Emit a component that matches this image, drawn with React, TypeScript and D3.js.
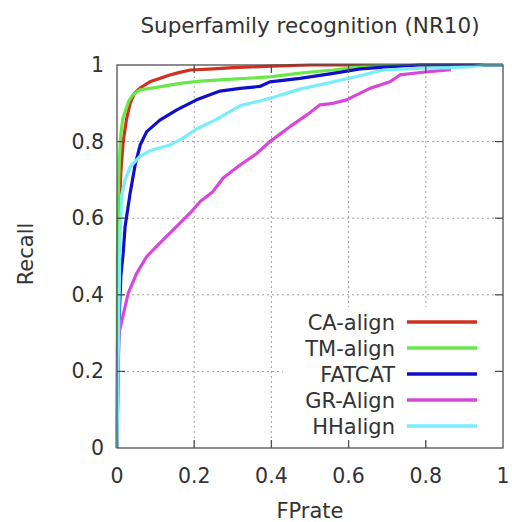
import React from "react";
import * as d3 from "d3";

const title = "Superfamily recognition (NR10)";
const xLabel = "FPrate";
const yLabel = "Recall";
const xTicks = [0, 0.2, 0.4, 0.6, 0.8, 1];
const yTicks = [0, 0.2, 0.4, 0.6, 0.8, 1];
const seriesNames = ["CA-align", "TM-align", "FATCAT", "GR-Align", "HHalign"];
const seriesColors = ["#d0301e", "#6ae84a", "#1010c8", "#d848d8", "#78eefa"];

const caAlign: [number, number][] = [
  [0, 0], [0.002, 0.4], [0.005, 0.6], [0.01, 0.72], [0.016, 0.8], [0.025, 0.86], [0.034, 0.9],
  [0.045, 0.925], [0.06, 0.94], [0.085, 0.956], [0.11, 0.965], [0.137, 0.974], [0.16, 0.98],
  [0.19, 0.987], [0.25, 0.99], [0.3, 0.993], [0.4, 0.997], [0.5, 1.0], [1, 1],
];
const tmAlign: [number, number][] = [
  [0, 0], [0.001, 0.5], [0.003, 0.65], [0.006, 0.75], [0.01, 0.82], [0.015, 0.86], [0.021, 0.878],
  [0.03, 0.905], [0.041, 0.922], [0.06, 0.935], [0.11, 0.943], [0.163, 0.952], [0.215, 0.958],
  [0.3, 0.963], [0.396, 0.969], [0.474, 0.979], [0.56, 0.987], [0.63, 0.996], [0.7, 1], [1, 1],
];
const fatcat: [number, number][] = [
  [0, 0], [0.003, 0.2], [0.006, 0.35], [0.01, 0.45], [0.016, 0.508], [0.021, 0.578], [0.034, 0.665],
  [0.047, 0.739], [0.06, 0.791], [0.077, 0.826], [0.111, 0.856], [0.155, 0.883], [0.206, 0.909],
  [0.267, 0.932], [0.319, 0.939], [0.37, 0.944], [0.396, 0.956], [0.474, 0.965], [0.56, 0.978],
  [0.63, 0.99], [0.733, 0.997], [0.785, 1.0], [1, 1],
];
const grAlign: [number, number][] = [
  [0, 0], [0.002, 0.25], [0.005, 0.3], [0.012, 0.33], [0.021, 0.369], [0.029, 0.404], [0.051, 0.456],
  [0.077, 0.5], [0.111, 0.535], [0.145, 0.569], [0.189, 0.613], [0.215, 0.643], [0.249, 0.67],
  [0.275, 0.705], [0.319, 0.739], [0.362, 0.769], [0.396, 0.8], [0.448, 0.839], [0.491, 0.869],
  [0.526, 0.896], [0.56, 0.9], [0.595, 0.909], [0.621, 0.922], [0.655, 0.939], [0.707, 0.956],
  [0.733, 0.974], [0.793, 0.981], [0.865, 0.988],
];
const hhAlign: [number, number][] = [
  [0, 0], [0.004, 0.3], [0.008, 0.55], [0.012, 0.66], [0.021, 0.7], [0.034, 0.734], [0.06, 0.762],
  [0.085, 0.776], [0.137, 0.791], [0.171, 0.809], [0.206, 0.833], [0.258, 0.858], [0.319, 0.894],
  [0.345, 0.9], [0.404, 0.915], [0.474, 0.937], [0.56, 0.956], [0.63, 0.972], [0.69, 0.987],
  [0.777, 0.991], [0.863, 0.993], [0.922, 0.996], [0.95, 1], [1, 1],
];
const seriesData = [caAlign, tmAlign, fatcat, grAlign, hhAlign];

const W = 512;
const H = 522;
const FONT = "'DejaVu Sans', sans-serif";

export default function App() {
  const x = d3.scaleLinear().domain([0, 1]).range([117, 503]);
  const y = d3.scaleLinear().domain([0, 1]).range([448, 65]);
  const line = d3
    .line<[number, number]>()
    .x((d) => x(d[0]))
    .y((d) => y(d[1]));
  const [x0, x1] = x.range();
  const [y0, y1] = y.range();
  const tickLen = 8;
  const legend = { left: 283, top: 307, right: 498, bottom: 441 };
  const legendRowY = (i: number) => 322 + i * 26;

  return (
    <div style={{ position: "absolute", left: 0, top: 0, width: W, height: H, background: "#fff" }}>
      <svg width={W} height={H} viewBox={`0 0 ${W} ${H}`} style={{ display: "block" }}>
        <rect width={W} height={H} fill="#fff" />
        {/* grid */}
        <g stroke="#a0a0a0" strokeWidth={1} strokeDasharray="2,3">
          {xTicks.filter((t) => t > 0 && t < 1).map((t) => (
            <line key={"gx" + t} x1={x(t)} x2={x(t)} y1={y0} y2={y1} />
          ))}
          {yTicks.filter((t) => t > 0 && t < 1).map((t) => (
            <line key={"gy" + t} x1={x0} x2={x1} y1={y(t)} y2={y(t)} />
          ))}
        </g>
        {/* legend background */}
        <rect x={legend.left} y={legend.top} width={legend.right - legend.left} height={legend.bottom - legend.top} fill="#fff" />
        {/* curves */}
        <g fill="none" strokeWidth={3.2} strokeLinejoin="round" strokeLinecap="butt">
          {seriesData.map((d, i) => (
            <path key={seriesNames[i]} d={line(d) || ""} stroke={seriesColors[i]} />
          ))}
        </g>
        {/* legend */}
        <g fontFamily={FONT} fontSize={21} fill="#333">
          {seriesNames.map((n, i) => (
            <g key={n}>
              <text x={395} y={legendRowY(i) + 7.5} textAnchor="end">{n}</text>
              <line x1={407} x2={477} y1={legendRowY(i)} y2={legendRowY(i)} stroke={seriesColors[i]} strokeWidth={3.5} />
            </g>
          ))}
        </g>
        {/* border & ticks */}
        <g stroke="#505050" strokeWidth={1.3} fill="none">
          <rect x={x0} y={y1} width={x1 - x0} height={y0 - y1} />
          {xTicks.filter((t) => t > 0 && t < 1).map((t) => (
            <g key={"tx" + t}>
              <line x1={x(t)} x2={x(t)} y1={y0} y2={y0 - tickLen} />
              <line x1={x(t)} x2={x(t)} y1={y1} y2={y1 + tickLen} />
            </g>
          ))}
          {yTicks.filter((t) => t > 0 && t < 1).map((t) => (
            <g key={"ty" + t}>
              <line x1={x0} x2={x0 + tickLen} y1={y(t)} y2={y(t)} />
              <line x1={x1} x2={x1 - tickLen} y1={y(t)} y2={y(t)} />
            </g>
          ))}
        </g>
        {/* tick labels */}
        <g fontFamily={FONT} fontSize={20.5} fill="#333">
          {xTicks.map((t) => (
            <text key={"lx" + t} x={x(t)} y={483} textAnchor="middle">{d3.format("~g")(t)}</text>
          ))}
          {yTicks.map((t) => (
            <text key={"ly" + t} x={104} y={y(t) + 7} textAnchor="end">{d3.format("~g")(t)}</text>
          ))}
        </g>
        {/* titles */}
        <text x={(x0 + x1) / 2} y={33} textAnchor="middle" fontFamily={FONT} fontSize={21.5} fill="#333">{title}</text>
        <text x={(x0 + x1) / 2} y={518} textAnchor="middle" fontFamily={FONT} fontSize={21} fill="#333">{xLabel}</text>
        <text transform={`translate(33, 254) rotate(-90)`} textAnchor="middle" fontFamily={FONT} fontSize={21} fill="#333">{yLabel}</text>
      </svg>
    </div>
  );
}
